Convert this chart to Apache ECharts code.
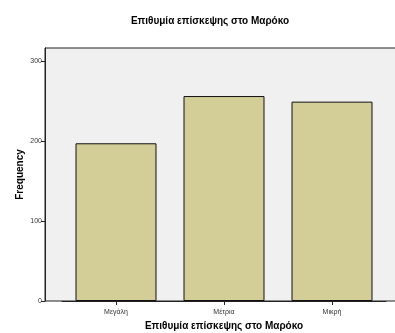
<!DOCTYPE html>
<html>
<head>
<meta charset="utf-8">
<script src="https://cdn.jsdelivr.net/npm/echarts@6/dist/echarts.min.js"></script>
<style>
  html, body { margin: 0; padding: 0; background: #fff; }
  #chart { width: 395px; height: 333px; }
</style>
</head>
<body>
<div id="chart"></div>
<script>
// data
var categories = ['Μεγάλη', 'Μέτρια', 'Μικρή'];
var frequency = [197, 256, 249];
var yTicks = [0, 100, 200, 300];

var font = 'Liberation Sans, Arial, sans-serif';
var chart = echarts.init(document.getElementById('chart'));

chart.setOption({
  animation: false,
  textStyle: { fontFamily: font },
  title: {
    text: 'Επιθυμία επίσκεψης στο Μαρόκο',
    left: 205,
    textAlign: 'center',
    top: 11,
    textStyle: { fontSize: 10, fontWeight: 'bold', color: '#000', fontFamily: font }
  },
  grid: [
    // frame + grey background, runs off the right edge like the original
    { left: 45, right: -9, top: 48, bottom: 32, show: true, backgroundColor: '#f0f0f0', borderColor: '#222', borderWidth: 1, outerBoundsMode: 'none' },
    // where the bars sit
    { left: 62, width: 324, top: 48, bottom: 32, outerBoundsMode: 'none' }
  ],
  xAxis: [
    { gridIndex: 0, type: 'value', show: false, min: 0, max: 1 },
    {
      gridIndex: 1,
      type: 'category',
      data: categories,
      axisLine: { show: true, lineStyle: { color: '#222' } },
      axisTick: { show: true, alignWithLabel: true, length: 4, lineStyle: { color: '#222' } },
      axisLabel: { fontSize: 7, color: '#333', margin: 8, fontFamily: font },
      name: 'Επιθυμία επίσκεψης στο Μαρόκο',
      nameLocation: 'middle',
      nameGap: 20,
      nameMoveOverlap: false,
      nameTextStyle: { fontSize: 10, fontWeight: 'bold', color: '#000', fontFamily: font }
    }
  ],
  yAxis: [
    {
      gridIndex: 0,
      type: 'value',
      min: yTicks[0],
      max: 316,
      interval: 100,
      splitLine: { show: false },
      axisLine: { show: true, lineStyle: { color: '#222' } },
      axisTick: { show: true, length: 4, customValues: yTicks, lineStyle: { color: '#222' } },
      axisLabel: { fontSize: 7, color: '#333', margin: 3, fontFamily: font, customValues: yTicks },
      name: 'Frequency',
      nameLocation: 'middle',
      nameGap: 20,
      nameMoveOverlap: false,
      nameTextStyle: { fontSize: 10, fontWeight: 'bold', color: '#000', fontFamily: font }
    },
    { gridIndex: 1, type: 'value', min: 0, max: 316, show: false }
  ],
  series: [{
    type: 'bar',
    xAxisIndex: 1,
    yAxisIndex: 1,
    barWidth: 81,
    data: frequency,
    itemStyle: { color: '#d3ce97', borderColor: '#111', borderWidth: 1 }
  }]
});
</script>
</body>
</html>
